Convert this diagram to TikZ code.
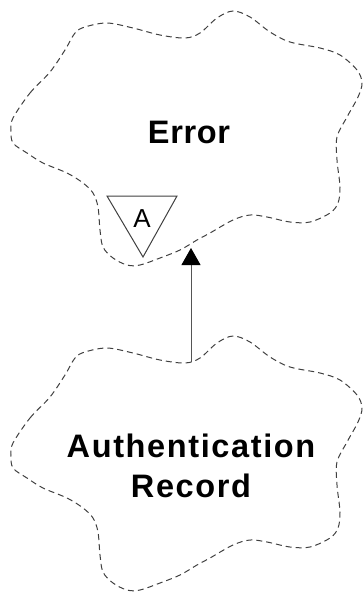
\documentclass[tikz,border=0pt]{standalone}
\usepackage{fontspec}
\setmainfont{Liberation Sans}
\usetikzlibrary{arrows.meta}
\definecolor{lineg}{HTML}{404040}
\definecolor{arrg}{HTML}{555555}
\tikzset{
  cloudline/.style={draw=lineg, line width=1pt, dash pattern=on 6pt off 4pt},
  cloud/.pic={
    \path[cloudline] plot[smooth cycle, tension=0.55] coordinates{
      (13,118) (30,93) (50,72) (65,50) (75,33) (85,27) (107,23) (133,28) (160,35) (185,38)
      (200,33) (217,18) (233,11) (250,17) (270,32) (290,42) (320,48) (340,55) (357,70)
      (362,83) (358,97) (347,117) (337,137) (337,160) (340,187) (338,203) (330,213)
      (310,222) (290,222) (267,217) (250,215) (233,220) (210,233) (197,240) (180,250)
      (160,258) (140,265) (127,265) (113,258) (103,247) (100,230) (98,207) (93,193)
      (83,183) (67,173) (43,163) (27,153) (13,143) (11,130)};
  },
  bigtext/.style={font=\bfseries\fontsize{32.5}{40}\selectfont, inner sep=0pt, align=center},
  conn/.style={draw=arrg, line width=1pt, -{Triangle[width=19pt,length=17pt,color=black]}},
}
\begin{document}
\begin{tikzpicture}[x=1pt,y=-1pt]
  \useasboundingbox (0,0) rectangle (363,592);
  \pic at (0,0) {cloud};
  \pic at (0,325) {cloud};
  \node[bigtext, anchor=base] (err) at (189,143) {\addfontfeature{LetterSpace=2}Error};
  \node[bigtext, anchor=base] (auth) at (191,497) {\addfontfeature{LetterSpace=5}Authentication\\\addfontfeature{LetterSpace=5}Record};
  \draw[draw=lineg, line width=1pt, fill=white] (107,196) -- (177,196) -- (143,257) -- cycle;
  \node[font=\fontsize{26}{30}\selectfont, inner sep=0pt, anchor=base] (abs) at (142,227) {A};
  \coordinate (authtop) at (191,362);
  \coordinate (errbot) at (191,248);
  \draw[conn] (authtop) -- (errbot);
\end{tikzpicture}
\end{document}
